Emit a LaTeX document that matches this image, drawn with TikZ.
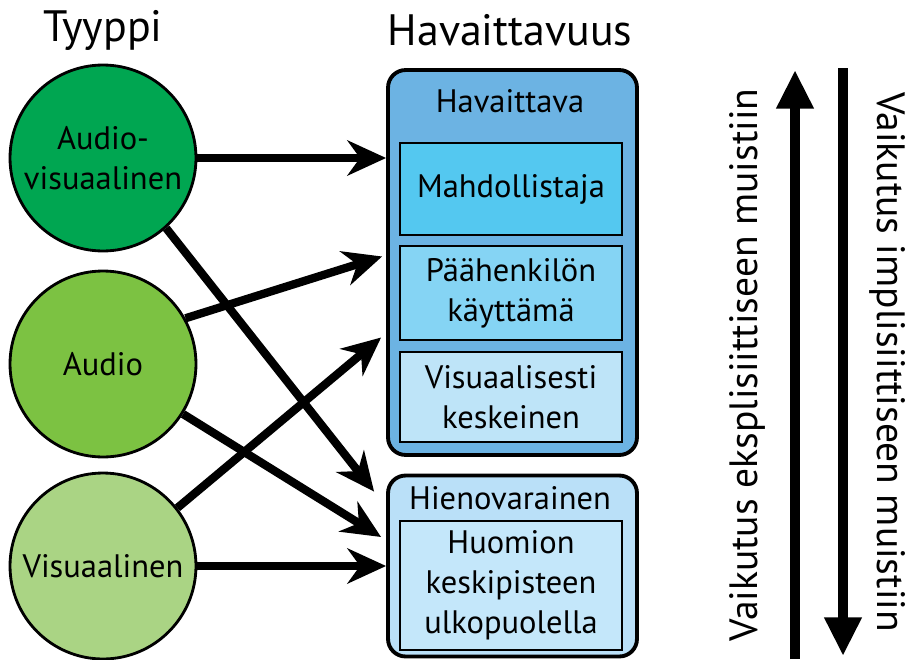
\documentclass[tikz,border=0pt]{standalone}
\usepackage{fontspec}
\setmainfont{PT Sans}
\usetikzlibrary{positioning,arrows.meta,calc}
\definecolor{AVGreen}{RGB}{0,166,81}
\definecolor{AudioGreen}{RGB}{124,194,66}
\definecolor{VisGreen}{RGB}{170,212,132}
\definecolor{HavBlue}{RGB}{108,179,227}
\definecolor{MahBlue}{RGB}{84,200,240}
\definecolor{PaaBlue}{RGB}{133,212,244}
\definecolor{KesBlue}{RGB}{190,228,248}
\definecolor{HienBlue}{RGB}{186,224,248}
\definecolor{HuoBlue}{RGB}{196,231,250}

\begin{document}
\begin{tikzpicture}[x=0.02cm, y=-0.02cm,
    every node/.style={align=center, font=\fontsize{18.5}{22.7}\selectfont},
    typ/.style={circle, draw, line width=1.6pt, minimum size=3.72cm, inner sep=0pt},
    outer/.style={draw, rounded corners=10pt, line width=2.2pt, minimum width=4.98cm},
    inner/.style={draw, line width=0.8pt, minimum width=4.44cm, inner sep=0pt},
    title/.style={font=\fontsize{25}{29}\selectfont},
    link/.style={-{Stealth[length=22pt, width=20pt]}, line width=4.7pt},
    axis/.style={-{Triangle[length=22pt, width=20pt]}, line width=5.5pt}]
  \useasboundingbox (0,0) rectangle (909,659);

  % types
  \node[title] (tyyppi) at (103,30) {Tyyppi};
  \node[typ, fill=AVGreen] (av) at (103,158) {Audio-\\visuaalinen};
  \node[typ, fill=AudioGreen] (audio) at (103,364) {Audio};
  \node[typ, fill=VisGreen] (vis) at (103,566) {Visuaalinen};

  % perceptibility
  \node[title] (havt) at (510,30) {Havaittavuus};
  \node[outer, fill=HavBlue, minimum height=7.7cm] (hav) at (512.5,262.5) {};
  \node (havl) at (510,101) {Havaittava};
  \node[inner, fill=MahBlue, minimum height=1.84cm] (mah) at (511,189) {Mahdollistaja};
  \node[inner, fill=PaaBlue, minimum height=1.88cm] (paa) at (511,293) {Päähenkilön\\käyttämä};
  \node[inner, fill=KesBlue, minimum height=1.80cm] (kes) at (511,397) {Visuaalisesti\\keskeinen};
  \node[outer, fill=HienBlue, minimum height=3.62cm] (hien) at (512.5,566) {};
  \node (hienl) at (510,498) {Hienovarainen};
  \node[inner, fill=HuoBlue, minimum height=2.58cm] (huo) at (511,585.5) {Huomion\\keskipisteen\\ulkopuolella};

  \draw[link] (av.east) -- (av.east -| hav.west);
  \draw[link] (av.-48) -- ($(hien.north west)+(-12,18)$);
  \draw[link] (audio.29) -- ($(hav.west)+(-4,-6)$);
  \draw[link] (audio.-32) -- ($(hien.west)+(-5,-29)$);
  \draw[link] (vis.38) -- ($(hav.west)+(-5,75)$);
  \draw[link] (vis.east) -- (vis.east -| hien.west);

  % memory effect
  \node[rotate=90, font=\fontsize{22.5}{26}\selectfont] (expl) at (747,365) {Vaikutus eksplisiittiseen muistiin};
  \node[rotate=-90, font=\fontsize{22.5}{26}\selectfont] (impl) at (888,362) {Vaikutus implisiittiseen muistiin};
  \coordinate (explo) at (795,659);
  \coordinate (exphi) at (795,70);
  \coordinate (imphi) at (843,68);
  \coordinate (implo) at (843,656);
  \draw[axis] (explo) -- (exphi);
  \draw[axis] (imphi) -- (implo);
\end{tikzpicture}
\end{document}
